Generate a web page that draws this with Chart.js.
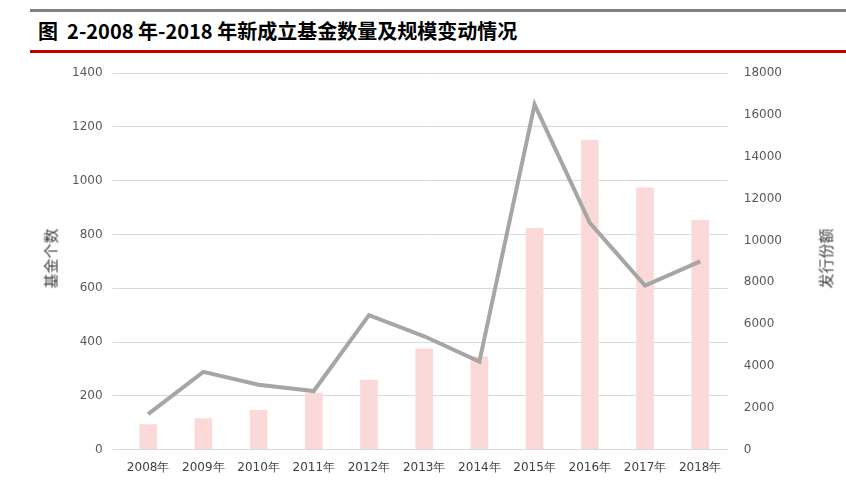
<!DOCTYPE html>
<html lang="zh">
<head>
<meta charset="UTF-8">
<script src="https://cdn.jsdelivr.net/npm/chart.js@4"></script>
<style>
  body { margin: 0; background: #fff; font-family: "Noto Sans CJK SC", sans-serif; }
  .top { position: absolute; left: 30px; top: 9px; width: 816px; height: 3px; background: #7f7f7f; }
  .title { position: absolute; left: 38px; top: 16px; font-size: 20px; font-weight: bold; color: #000; }
  .red { position: absolute; left: 30px; top: 50px; width: 816px; height: 3px; background: #c00000; }
  #wrap { position: absolute; left: 40px; top: 56px; width: 780px; height: 428px; }
  .ytitle { position: absolute; font-size: 15px; color: #404040; transform: rotate(-90deg); transform-origin: center; white-space: nowrap; }
</style>
</head>
<body>
<div class="top"></div>
<div class="title">图&nbsp; 2-2008 年-2018 年新成立基金数量及规模变动情况</div>
<div class="red"></div>
<div id="wrap"><canvas id="myChart"></canvas></div>
<div class="ytitle" style="left:20px; top:248px;">基金个数</div>
<div class="ytitle" style="left:795px; top:248px;">发行份额</div>
<script>
  const years = ['2008年', '2009年', '2010年', '2011年', '2012年', '2013年', '2014年', '2015年', '2016年', '2017年', '2018年'];
  const fundCount = [94, 117, 147, 211, 260, 376, 346, 824, 1152, 975, 854];
  const issueShares = [1700, 3720, 3100, 2800, 6430, 5420, 4210, 16500, 10840, 7840, 9000];

  const tickFont = { family: 'DejaVu Sans', size: 12 };
  new Chart(document.getElementById('myChart'), {
    type: 'bar',
    data: {
      labels: years,
      datasets: [
        { type: 'line', label: '发行份额', data: issueShares, yAxisID: 'y2',
          borderColor: '#a6a6a6', borderWidth: 4, pointRadius: 0, tension: 0, order: 0 },
        { label: '基金个数', data: fundCount, yAxisID: 'y',
          backgroundColor: '#fbd9d9', barPercentage: 0.32, categoryPercentage: 1, order: 1 }
      ]
    },
    options: {
      responsive: true, maintainAspectRatio: false, animation: false,
      layout: { padding: { top: 11, right: 30, bottom: 6, left: 22 } },
      plugins: { legend: { display: false }, tooltip: { enabled: false } },
      scales: {
        x: { grid: { display: false }, border: { color: '#d9d9d9' },
             ticks: { color: '#404040', font: tickFont, maxRotation: 0 } },
        y: { min: 0, max: 1400, ticks: { stepSize: 200, color: '#595959', font: tickFont, padding: 10, callback: v => String(v) },
             grid: { color: '#d9d9d9' }, border: { display: false } },
        y2: { position: 'right', min: 0, max: 18000, ticks: { stepSize: 2000, color: '#595959', font: tickFont, padding: 8, callback: v => String(v) },
              grid: { display: false }, border: { display: false } }
      }
    }
  });
</script>
</body>
</html>
